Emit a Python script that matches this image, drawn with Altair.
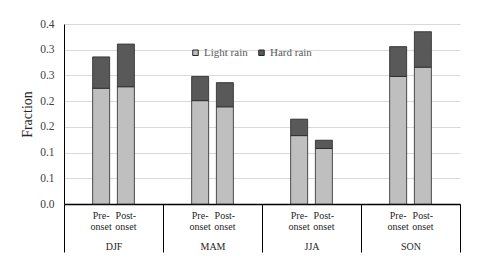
import altair as alt
import pandas as pd

seasons = ["DJF", "MAM", "JJA", "SON"]
periods = ["Pre-onset", "Post-onset"]
period_labels = ["Pre-\nonset", "Post-\nonset"]
rain_types = ["Light rain", "Hard rain"]
colors = ["#bfbfbf", "#595959"]
# per season: pre-onset, post-onset
light = [0.225, 0.228, 0.201, 0.189, 0.133, 0.108, 0.248, 0.266]
hard = [0.061, 0.083, 0.047, 0.047, 0.032, 0.016, 0.058, 0.069]
y_ticks = [0.0, 0.05, 0.10, 0.15, 0.20, 0.25, 0.30, 0.35]

FONT = "Liberation Serif"

rows = []
lab_rows = []
for i, s in enumerate(seasons):
    for j, p in enumerate(periods):
        k = i * 2 + j
        rows.append(dict(season=s, period=p, type="Light rain", value=light[k], ord=0))
        rows.append(dict(season=s, period=p, type="Hard rain", value=hard[k], ord=1))
        lab_rows.append(dict(season=s, period=p, label=period_labels[j]))
df = pd.DataFrame(rows)
ldf = pd.DataFrame(lab_rows)

x_enc = alt.X(
    "season:N", sort=seasons,
    scale=alt.Scale(paddingInner=0, paddingOuter=0),
    axis=alt.Axis(title=None, tickBand="extent", tickSize=48, tickColor="#000000",
                  tickWidth=1, domainColor="#000000", domainWidth=1.5,
                  labelPadding=-6, labelBaseline="middle", labelAngle=0,
                  labelFont=FONT, labelFontSize=10, labelColor="#262626"),
)
xo_enc = alt.XOffset("period:N", sort=periods,
                     scale=alt.Scale(paddingInner=0, paddingOuter=1))

bars = alt.Chart(df).mark_bar(stroke="#262626", strokeWidth=0.8, width=17).encode(
    x=x_enc,
    xOffset=xo_enc,
    y=alt.Y("value:Q", stack="zero",
            scale=alt.Scale(domain=[0, 0.35], nice=False),
            axis=alt.Axis(values=y_ticks,
                          labelExpr="format(round(datum.value*10+1e-6)/10, '.1f')",
                          ticks=False, labelPadding=10, grid=True, gridColor="#d9d9d9",
                          domainColor="#000000", domainWidth=1,
                          labelFont=FONT, labelFontSize=11.5, labelColor="#404040",
                          title="Fraction", titleFont=FONT, titleFontSize=14,
                          titleFontWeight="normal", titleColor="#262626",
                          titleX=-37, titleY=90, titleAngle=270,
                          titleBaseline="middle", titleAlign="center")),
    color=alt.Color("type:N", sort=rain_types,
                    scale=alt.Scale(domain=rain_types, range=colors),
                    legend=alt.Legend(orient="none", legendX=126, legendY=23,
                                      direction="horizontal", title=None,
                                      symbolType="square", symbolSize=30,
                                      symbolStrokeColor="#262626", symbolStrokeWidth=1,
                                      labelFont=FONT, labelFontSize=11,
                                      labelColor="#595959", columnPadding=8,
                                      labelOffset=3, padding=0)),
    order=alt.Order("ord:Q"),
)

labels = alt.Chart(ldf).mark_text(lineBreak="\n", baseline="middle", fontSize=10,
                                  font=FONT, color="#262626", lineHeight=11).encode(
    x=alt.X("season:N", sort=seasons),
    xOffset=alt.XOffset("period:N", sort=periods),
    y=alt.value(192),
    text="label:N",
)

chart = alt.layer(bars, labels).properties(
    width=396, height=180,
    autosize=alt.AutoSizeParams(type="none"),
    padding={"left": 56, "top": 16, "right": 12, "bottom": 61},
).configure_view(stroke=None)

chart.save("out.html", embed_options={"renderer": "svg", "actions": False})
